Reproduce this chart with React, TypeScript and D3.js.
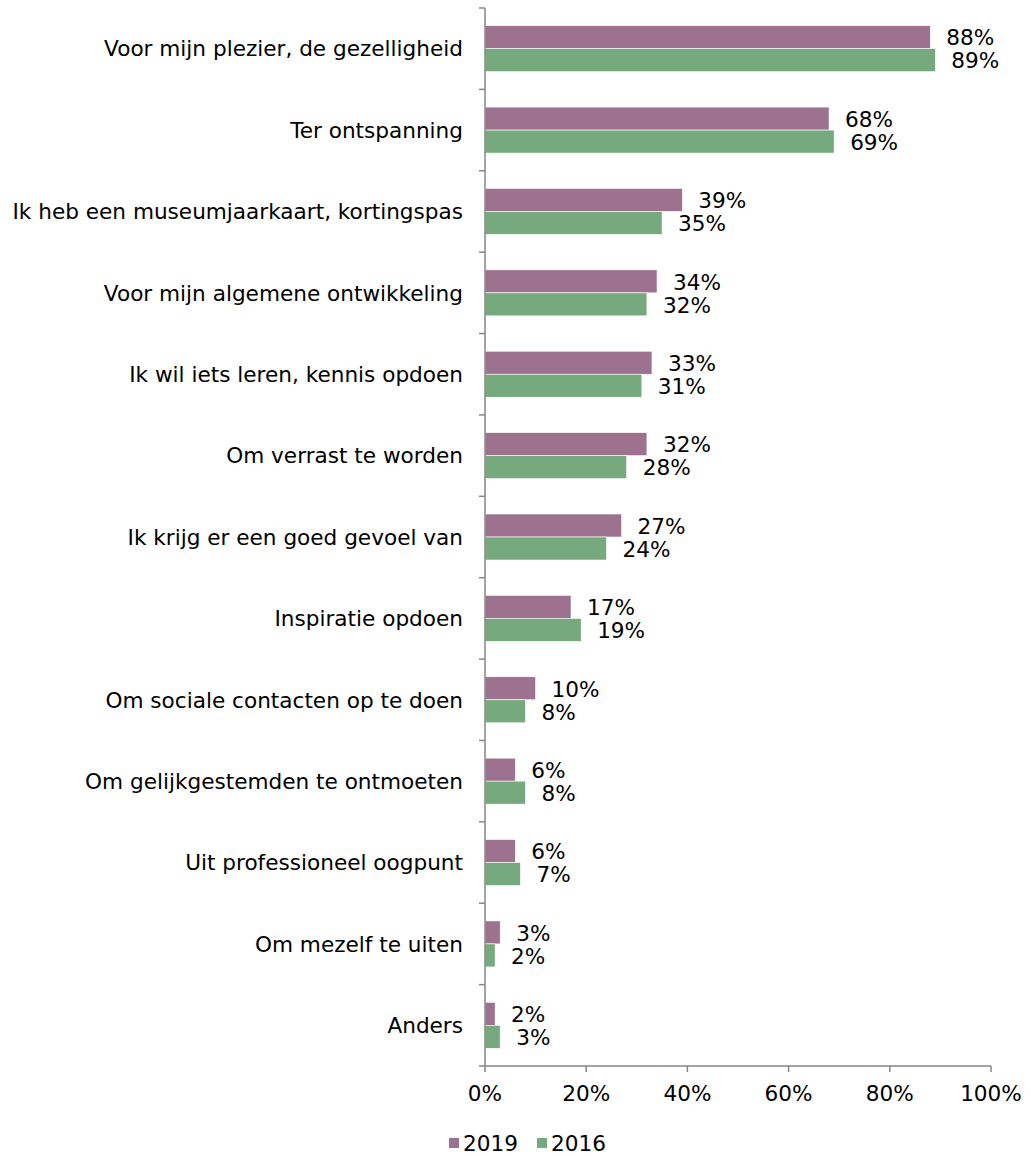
import React from "react";
import * as d3 from "d3";

const categories = [
  "Voor mijn plezier, de gezelligheid",
  "Ter ontspanning",
  "Ik heb een museumjaarkaart, kortingspas",
  "Voor mijn algemene ontwikkeling",
  "Ik wil iets leren, kennis opdoen",
  "Om verrast te worden",
  "Ik krijg er een goed gevoel van",
  "Inspiratie opdoen",
  "Om sociale contacten op te doen",
  "Om gelijkgestemden te ontmoeten",
  "Uit professioneel oogpunt",
  "Om mezelf te uiten",
  "Anders",
];
const values2019 = [88, 68, 39, 34, 33, 32, 27, 17, 10, 6, 6, 3, 2];
const values2016 = [89, 69, 35, 32, 31, 28, 24, 19, 8, 8, 7, 2, 3];
const seriesNames = ["2019", "2016"];
const xTicks = [0, 20, 40, 60, 80, 100];

const COLORS = ["#9C728F", "#76AA7E"];
const FONT = "Verdana, 'DejaVu Sans', sans-serif";
const FS = 21.6;

export default function App() {
  const W = 1031, H = 1156;
  const left = 485, right = 991, top = 8, bottom = 1066;
  const x = d3.scaleLinear().domain([0, 100]).range([left, right]);
  const y = d3.scaleBand<string>().domain(categories).range([top, bottom]).paddingInner(0).paddingOuter(0);
  const bw = y.bandwidth();
  const barH = 23;
  const series = [values2019, values2016];
  const axisColor = "#868686";

  return (
    <svg width={W} height={H} style={{ position: "absolute", left: 0, top: 0, fontFamily: FONT }}>
      <rect width={W} height={H} fill="#fff" />
      {categories.map((c, i) => {
        const y0 = y(c)!;
        const groupTop = y0 + (bw - 2 * barH) / 2;
        return (
          <g key={c}>
            {series.map((vals, s) => (
              <g key={s}>
                <rect
                  x={x(0)}
                  y={groupTop + s * barH}
                  width={x(vals[i]) - x(0)}
                  height={barH}
                  fill={COLORS[s]}
                  stroke="#fff"
                  strokeWidth={0.6}
                />
                <text
                  x={x(vals[i]) + 16}
                  y={groupTop + s * barH + barH / 2 + 0.5}
                  dy="0.36em"
                  fontSize={FS}
                  fill="#000"
                >
                  {vals[i]}%
                </text>
              </g>
            ))}
            <text x={463} y={y0 + bw / 2} dy="0.36em" textAnchor="end" fontSize={FS} fill="#000">
              {c}
            </text>
          </g>
        );
      })}
      {/* y axis */}
      <line x1={left} x2={left} y1={top} y2={bottom} stroke={axisColor} strokeWidth={1.5} />
      {d3.range(categories.length + 1).map((k) => {
        const yy = top + k * bw;
        return <line key={k} x1={left - 6} x2={left} y1={yy} y2={yy} stroke={axisColor} strokeWidth={1.5} />;
      })}
      {/* x axis */}
      <line x1={left} x2={right} y1={bottom} y2={bottom} stroke={axisColor} strokeWidth={1.5} />
      {xTicks.map((t) => (
        <g key={t}>
          <line x1={x(t)} x2={x(t)} y1={bottom} y2={bottom + 6} stroke={axisColor} strokeWidth={1.5} />
          <text x={x(t)} y={1093} dy="0.36em" textAnchor="middle" fontSize={FS} fill="#000">
            {t}%
          </text>
        </g>
      ))}
      {/* legend */}
      {seriesNames.map((n, s) => {
        const lx = [449, 537][s];
        return (
          <g key={n}>
            <rect x={lx} y={1138} width={10} height={10} fill={COLORS[s]} />
            <text x={lx + 14} y={1143} dy="0.36em" fontSize={FS} fill="#000">
              {n}
            </text>
          </g>
        );
      })}
    </svg>
  );
}
